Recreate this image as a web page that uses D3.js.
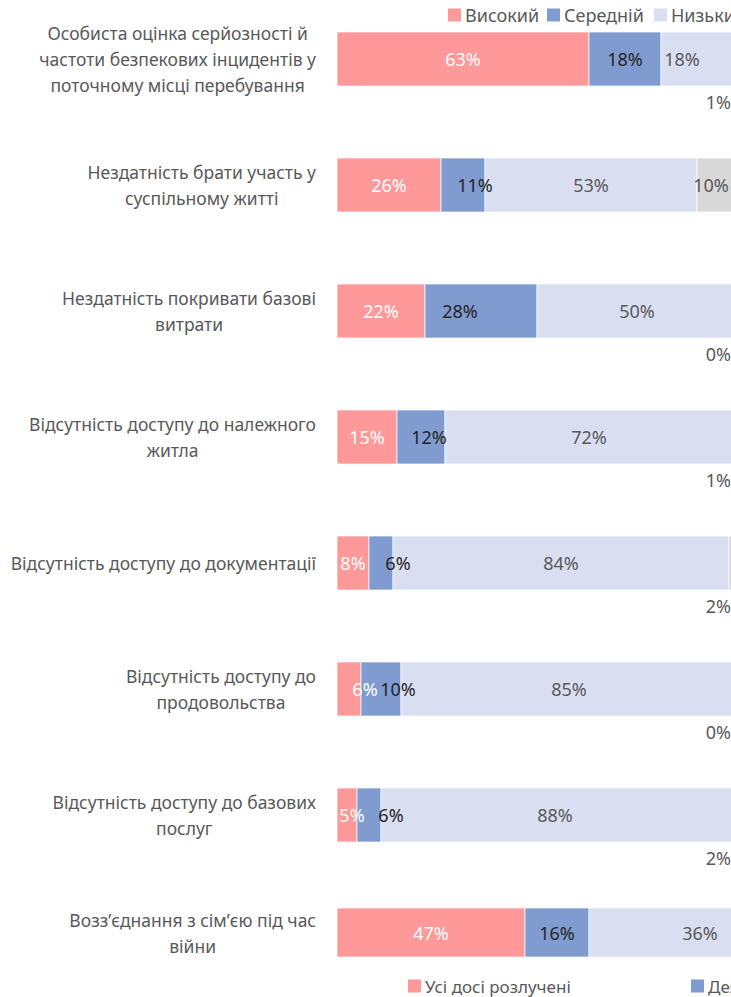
<!DOCTYPE html>
<html>
<head>
<meta charset="utf-8">
<script src="https://cdn.jsdelivr.net/npm/d3@7"></script>
<style>
  body { margin: 0; background: #fff; }
  svg { display: block; overflow: hidden; }
</style>
</head>
<body>
<div id="chart"></div>
<script>
// Категорії (з переносами рядків, як у підписах осі)
var categories = [
  ["Особиста оцінка серйозності й", "частоти безпекових інцидентів у", "поточному місці перебування"],
  ["Нездатність брати участь у", "суспільному житті"],
  ["Нездатність покривати базові", "витрати"],
  ["Відсутність доступу до належного", "житла"],
  ["Відсутність доступу до документації"],
  ["Відсутність доступу до", "продовольства"],
  ["Відсутність доступу до базових", "послуг"]
];
var seriesNames = ["Високий", "Середній", "Низький", "Немає відповіді"];
var high   = [63, 26, 22, 15, 8, 6, 5];
var medium = [18, 11, 28, 12, 6, 10, 6];
var low    = [18, 53, 50, 72, 84, 85, 88];
var other  = [1, 10, 0, 1, 2, 0, 2];

// Окрема діаграма внизу
var famCategory = [["Возз’єднання з сім’єю під час", "війни"]];
var famNames = ["Усі досі розлучені", "Деякі досі розлучені", "Ніхто"];
var famAll  = [47];
var famSome = [16];
var famNone = [36];

var colors = ["#ff9999", "#7f9bcf", "#d9dff1", "#d9d9d9"];
var labelColors = ["#ffffff", "#262626", "#595959", "#595959"];

// ручні зсуви підписів значень (px), як у вихідному файлі
var labelDx = [
  [0, 0, -15, 0],
  [0, 12, 0, -6],
  [0, -21, 0, 0],
  [0, 8, 0, 0],
  [0, 17, 0, 0],
  [16, 17, -2, 0],
  [5, 22, -2, 0]
];
var famLabelDx = [[0, 0, 39]];

var width = 731, height = 997;
var barLeft = 337, labelRight = 316;
var catFont = "'Noto Sans', 'DejaVu Sans', sans-serif";

var svg = d3.select("#chart").append("svg")
  .attr("width", width)
  .attr("height", height)
  .style("font-family", catFont);

var barLayer = svg.append("g");
var textLayer = svg.append("g");

var x = d3.scaleLinear().domain([0, 100]).range([barLeft, barLeft + 400]);

function drawCategoryLabel(lines, cy) {
  var lh = 26;
  var g = textLayer.append("g");
  var texts = g.selectAll("text").data(lines).join("text")
    .attr("y", function(d, i) { return cy + (i - (lines.length - 1) / 2) * lh; })
    .attr("dominant-baseline", "central")
    .attr("text-anchor", "middle")
    .style("font-size", "17.5px")
    .style("fill", "#595959")
    .text(function(d) { return d; });
  var maxW = 0;
  texts.each(function() { maxW = Math.max(maxW, this.getComputedTextLength()); });
  texts.attr("x", labelRight - maxW / 2);
}

function drawRows(rows, y, dxTable, smallBelow) {
  rows.forEach(function(r, i) {
    var y0 = y(i), bh = y.bandwidth(), cy = y0 + bh / 2;
    drawCategoryLabel(r.cat, cy);
    var acc = 0;
    r.vals.forEach(function(v, j) {
      var x0 = x(acc), x1 = x(acc + v);
      acc += v;
      if (v > 0) {
        barLayer.append("rect")
          .attr("x", x0).attr("y", y0)
          .attr("width", x1 - x0).attr("height", bh)
          .attr("fill", colors[j])
          .attr("stroke", "#fff").attr("stroke-width", 0.7);
      }
      var t = textLayer.append("text")
        .attr("dominant-baseline", "central")
        .style("font-size", "18px")
        .style("fill", labelColors[j])
        .text(v + "%");
      if (smallBelow && j === 3 && v < 5) {
        t.attr("x", x(100) - 6).attr("y", y0 + bh + 16).attr("text-anchor", "end");
      } else {
        t.attr("x", (x0 + x1) / 2 + dxTable[i][j]).attr("y", cy).attr("text-anchor", "middle");
      }
    });
  });
}

// Основна діаграма
var y = d3.scaleBand()
  .domain(d3.range(categories.length))
  .range([32, 842])
  .paddingInner(72 / 126)
  .paddingOuter(0);

var rows = categories.map(function(c, i) {
  return { cat: c, vals: [high[i], medium[i], low[i], other[i]] };
});
drawRows(rows, y, labelDx, true);

// Нижня діаграма
var y2 = d3.scaleBand().domain([0]).range([908, 957]).padding(0);
var famRows = famCategory.map(function(c, i) {
  return { cat: c, vals: [famAll[i], famSome[i], famNone[i]] };
});
drawRows(famRows, y2, famLabelDx, false);

// Легенди
function legend(items, positions, yc, fontSize) {
  items.forEach(function(name, i) {
    textLayer.append("rect")
      .attr("x", positions[i]).attr("y", yc - 6.5)
      .attr("width", 13).attr("height", 13)
      .attr("fill", colors[i]);
    textLayer.append("text")
      .attr("x", positions[i] + 17).attr("y", yc)
      .attr("dominant-baseline", "central")
      .style("font-size", fontSize + "px")
      .style("fill", "#595959")
      .text(name);
  });
}
legend(seriesNames.slice(0, 3), [448, 547, 654], 15, 18);
legend(famNames.slice(0, 2), [408, 691], 986, 17);
</script>
</body>
</html>
